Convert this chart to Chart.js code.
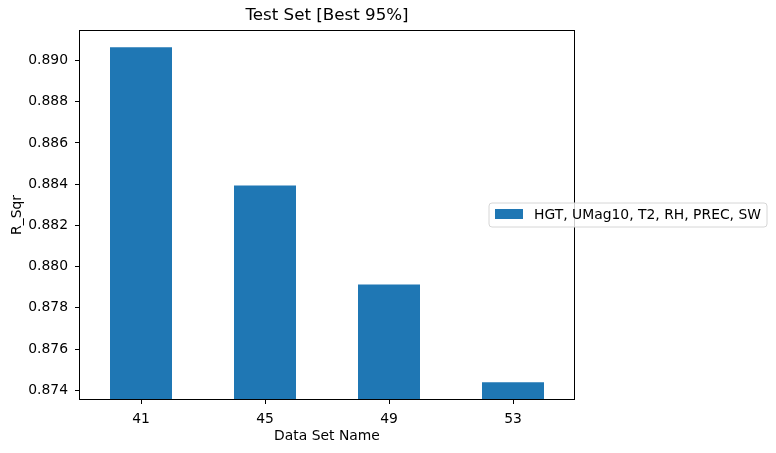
<!DOCTYPE html>
<html>
<head>
<meta charset="utf-8">
<script src="https://cdn.jsdelivr.net/npm/chart.js@4.4.0/dist/chart.umd.min.js"></script>
<style>
html,body{margin:0;padding:0;background:#fff;}
#wrap{width:776px;height:453px;position:relative;}
</style>
</head>
<body>
<div id="wrap"><canvas id="c" width="776" height="453"></canvas></div>
<script>
const categories = ['41', '45', '49', '53'];
const seriesLabel = 'HGT, UMag10, T2, RH, PREC, SW';
const chartTitle = 'Test Set [Best 95%]';
const rSqr = [0.89064, 0.88394, 0.87913, 0.87439];
const yTicks = [0.874, 0.876, 0.878, 0.880, 0.882, 0.884, 0.886, 0.888, 0.890];
const yMin = 0.87353;
const yMax = 0.89148;

const FONT = 'DejaVu Sans';
const BLUE = '#1f77b4';

const framePlugin = {
  id: 'frame',
  afterDraw(chart) {
    const ctx = chart.ctx;
    const a = chart.chartArea;
    ctx.save();
    ctx.strokeStyle = '#000';
    ctx.lineWidth = 1;
    ctx.strokeRect(Math.round(a.left) + 0.5, Math.round(a.top) + 0.5,
                   Math.round(a.right - a.left) - 1, Math.round(a.bottom - a.top) - 1);
    // title
    ctx.fillStyle = '#000';
    ctx.font = '16.7px "' + FONT + '"';
    ctx.textAlign = 'center';
    ctx.textBaseline = 'middle';
    ctx.fillText(chartTitle, (a.left + a.right) / 2, 16);
    // legend
    const x0 = 489, y0 = 203, w = 278, h = 24, r = 3;
    ctx.beginPath();
    ctx.moveTo(x0 + r, y0);
    ctx.lineTo(x0 + w - r, y0);
    ctx.quadraticCurveTo(x0 + w, y0, x0 + w, y0 + r);
    ctx.lineTo(x0 + w, y0 + h - r);
    ctx.quadraticCurveTo(x0 + w, y0 + h, x0 + w - r, y0 + h);
    ctx.lineTo(x0 + r, y0 + h);
    ctx.quadraticCurveTo(x0, y0 + h, x0, y0 + h - r);
    ctx.lineTo(x0, y0 + r);
    ctx.quadraticCurveTo(x0, y0, x0 + r, y0);
    ctx.closePath();
    ctx.fillStyle = 'rgba(255,255,255,0.8)';
    ctx.fill();
    ctx.strokeStyle = '#d6d6d6';
    ctx.lineWidth = 1;
    ctx.stroke();
    const ds = chart.data.datasets[0];
    ctx.fillStyle = ds.backgroundColor;
    ctx.fillRect(495, 209, 28, 10);
    ctx.fillStyle = '#000';
    ctx.font = '13.9px "' + FONT + '"';
    ctx.textBaseline = 'middle';
    ctx.textAlign = 'left';
    ctx.fillText(ds.label, 534, 215);
    ctx.restore();
  }
};

new Chart(document.getElementById('c'), {
  type: 'bar',
  data: {
    labels: categories,
    datasets: [{
      label: seriesLabel,
      data: rSqr,
      backgroundColor: BLUE,
      borderWidth: 0,
      categoryPercentage: 1.0,
      barPercentage: 0.5
    }]
  },
  options: {
    responsive: false,
    animation: false,
    devicePixelRatio: 1,
    layout: { padding: { left: 0, right: 201, top: 30, bottom: 0 } },
    plugins: {
      legend: { display: false },
      tooltip: { enabled: false },
      title: { display: false }
    },
    scales: {
      x: {
        grid: { offset: false, drawOnChartArea: false, drawTicks: true, tickLength: 4, color: '#000' },
        border: { display: false },
        ticks: { color: '#000', font: { family: FONT, size: 13.9 }, padding: 7, maxRotation: 0 },
        title: { display: true, text: 'Data Set Name', color: '#000', font: { family: FONT, size: 13.9 }, padding: { top: 0, bottom: 8 } },
        afterFit(scale) { scale.height = 53; }
      },
      y: {
        min: yMin,
        max: yMax,
        grid: { drawOnChartArea: false, drawTicks: true, tickLength: 4, color: '#000' },
        border: { display: false },
        ticks: {
          color: '#000', font: { family: FONT, size: 13.9 }, padding: 7,
          callback: (v) => Number(v).toFixed(3)
        },
        afterBuildTicks(scale) { scale.ticks = yTicks.map(v => ({ value: v })); },
        title: { display: true, text: 'R_Sqr', color: '#000', font: { family: FONT, size: 13.9 }, padding: { top: 9, bottom: 0 } },
        afterFit(scale) { scale.width = 79; }
      }
    }
  },
  plugins: [framePlugin]
});
</script>
</body>
</html>
